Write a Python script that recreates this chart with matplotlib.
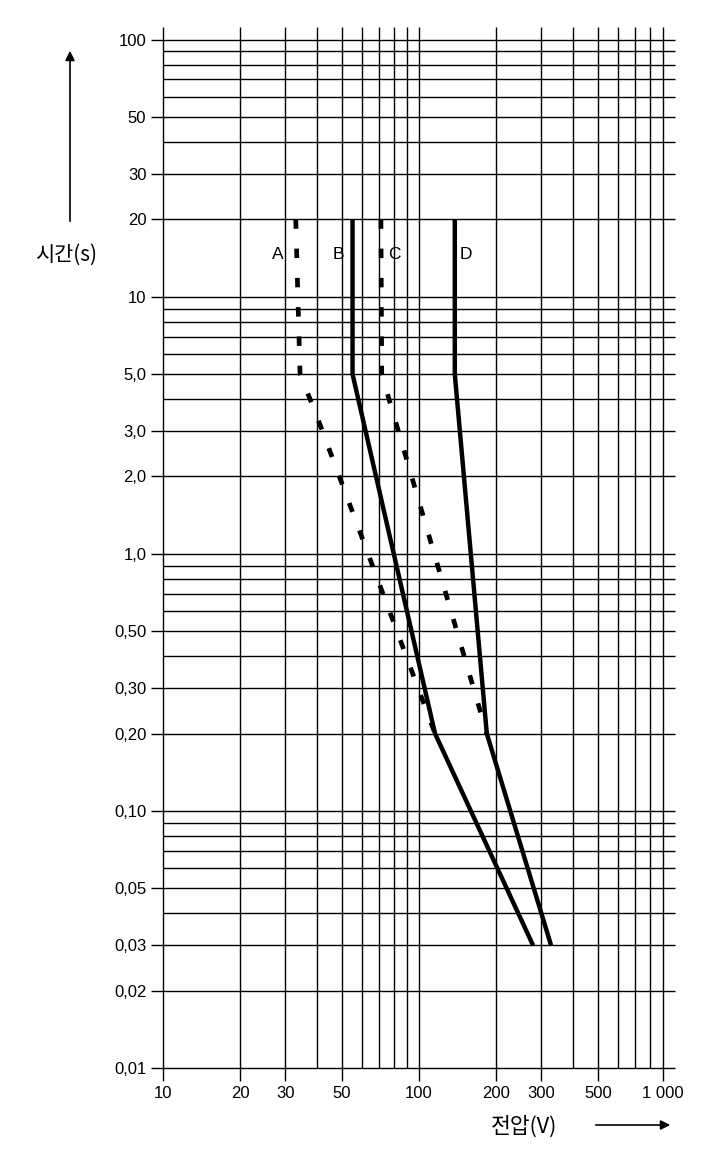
import matplotlib
matplotlib.use('Agg')
import matplotlib.pyplot as plt
from matplotlib.ticker import NullLocator

plt.rcParams['font.family'] = ['Liberation Sans', 'DejaVu Sans']

# 곡선 데이터 (전압 V, 시간 s)
a_volt = [33.0, 34.3, 39.6, 115.5]
a_time = [20, 5.0, 3.5, 0.2]
b_volt = [55.0, 55.0, 115.5, 279]
b_time = [20, 5.0, 0.2, 0.03]
c_volt = [71.0, 71.5, 184]
c_time = [20, 5.0, 0.2]
d_volt = [138, 138, 184, 328]
d_time = [20, 5.0, 0.2, 0.03]

curve_names = ['A', 'B', 'C', 'D']
name_volt = [28.0, 48.3, 80.0, 152]
name_time = [14.6, 14.6, 14.6, 14.6]

# 눈금 / 격자
x_ticks = [10, 20, 30, 50, 100, 200, 300, 500, 900]   # 원본에서 '1 000'은 900 위치의 선에 붙어 있음
x_labels = ['10', '20', '30', '50', '100', '200', '300', '500', '1 000']
x_grid = [10, 20, 30, 40, 50, 60, 70, 80, 90,
          100, 200, 300, 400, 500, 600, 700, 800, 900]
y_ticks = [0.01, 0.02, 0.03, 0.05, 0.1, 0.2, 0.3, 0.5,
           1, 2, 3, 5, 10, 20, 30, 50, 100]
y_labels = ['0,01', '0,02', '0,03', '0,05', '0,10', '0,20', '0,30', '0,50',
            '1,0', '2,0', '3,0', '5,0', '10', '20', '30', '50', '100']
y_grid = [0.01, 0.02, 0.03, 0.04, 0.05, 0.06, 0.07, 0.08, 0.09,
          0.1, 0.2, 0.3, 0.4, 0.5, 0.6, 0.7, 0.8, 0.9,
          1, 2, 3, 4, 5, 6, 7, 8, 9,
          10, 20, 30, 40, 50, 60, 70, 80, 90, 100]

x_min, x_max = 10, 1000
y_min, y_max = 0.01, 112

fig = plt.figure(figsize=(7.28, 11.54), dpi=100)
ax = fig.add_axes([0.2239, 0.0745, 0.7033, 0.9021])
ax.set_xscale('log')
ax.set_yscale('log')
ax.set_xlim(x_min, x_max)
ax.set_ylim(y_min, y_max)
for s in ax.spines.values():
    s.set_visible(False)

# 격자선
ax.hlines(y_grid, x_min, x_max, color='black', linewidth=1.0, zorder=1,
          clip_on=False)
ax.vlines(x_grid, y_min, y_max, color='black', linewidth=1.0, zorder=1,
          clip_on=False)

# 곡선
dash = (2.0, 4.2)
ax.plot(a_volt, a_time, color='black', linewidth=3.4, dashes=dash,
        dash_capstyle='butt', zorder=3)
ax.plot(b_volt, b_time, color='black', linewidth=3.2,
        solid_capstyle='butt', zorder=3)
ax.plot(c_volt, c_time, color='black', linewidth=3.4, dashes=dash,
        dash_capstyle='butt', zorder=3)
ax.plot(d_volt, d_time, color='black', linewidth=3.2,
        solid_capstyle='butt', zorder=3)

for name, xv, yv in zip(curve_names, name_volt, name_time):
    ax.text(xv, yv, name, fontsize=12.5, ha='center', va='center', zorder=4)

ax.set_xticks(x_ticks)
ax.set_xticklabels(x_labels)
ax.set_yticks(y_ticks)
ax.set_yticklabels(y_labels)
ax.xaxis.set_minor_locator(NullLocator())
ax.yaxis.set_minor_locator(NullLocator())
ax.tick_params(direction='out', length=9, width=1.0, labelsize=12,
               color='black')
ax.tick_params(axis='x', pad=4)
ax.tick_params(axis='y', pad=3)

# 축 이름과 화살표
kfont = ['Noto Sans CJK KR', 'DejaVu Sans']
fig.text(66 / 728, 1 - 255 / 1154, '시간(s)', family=kfont, fontsize=15,
         ha='center', va='center')
fig.text(524 / 728, 1 - 1127 / 1154, '전압(V)', family=kfont, fontsize=15.5,
         ha='center', va='center')
ax.annotate('', xy=(70 / 728, 1 - 48 / 1154), xytext=(70 / 728, 1 - 224 / 1154),
            xycoords='figure fraction', textcoords='figure fraction',
            arrowprops=dict(arrowstyle='-|>', color='black', lw=1.2,
                            mutation_scale=14))
ax.annotate('', xy=(673 / 728, 1 - 1125 / 1154), xytext=(593 / 728, 1 - 1125 / 1154),
            xycoords='figure fraction', textcoords='figure fraction',
            arrowprops=dict(arrowstyle='-|>', color='black', lw=1.2,
                            mutation_scale=14))

fig.savefig('out.png', dpi=100)
